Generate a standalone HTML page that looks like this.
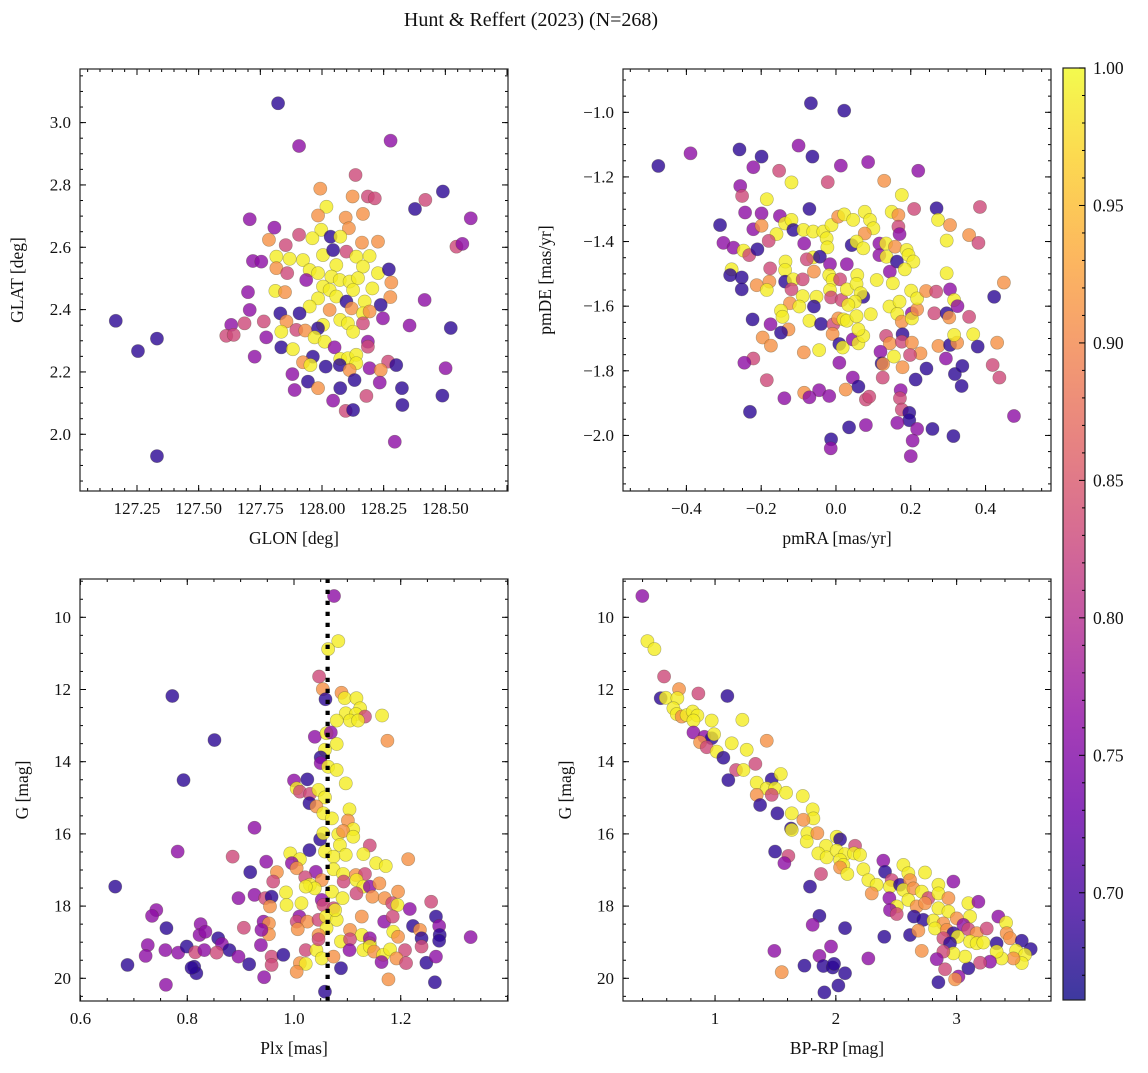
<!DOCTYPE html>
<html><head><meta charset="utf-8"><style>
body{margin:0;background:#fff;}
svg text{font-family:"Liberation Serif",serif;fill:#111;}
</style></head><body>
<svg id="fig" xmlns="http://www.w3.org/2000/svg" width="1148" height="1068" viewBox="0 0 1148 1068">
<defs><linearGradient id="plasma" x1="0" y1="1" x2="0" y2="0"></linearGradient></defs>
<rect width="1148" height="1068" fill="#fff"/>
<text x="531" y="26" font-size="20" text-anchor="middle" font-family="Liberation Serif, serif">Hunt &amp; Reffert (2023) (N=268)</text>
</svg>
<script>
// Panel 1: GLON vs GLAT
const glon=[127.822,127.907,128.278,128.136,127.993,128.490,128.419,128.124,128.186,128.214,128.018,128.377,128.603,127.707,127.984,128.096,128.166,127.807,127.907,127.997,128.109,128.035,127.961,128.074,127.785,127.853,128.162,128.227,128.545,128.569,127.815,127.869,127.923,127.720,127.754,127.815,127.859,128.004,128.045,128.099,128.139,128.193,128.166,128.058,127.950,127.984,128.038,127.936,128.227,128.271,128.004,128.072,128.112,128.146,128.281,127.700,127.811,127.850,128.031,128.126,128.204,127.984,128.058,128.099,128.173,128.277,128.416,127.950,128.031,128.120,128.238,127.707,127.831,127.909,128.166,128.193,128.247,128.074,128.105,127.164,127.632,127.686,127.764,127.856,128.004,128.166,128.355,128.522,127.331,127.612,127.642,127.774,127.835,127.896,127.932,127.984,127.970,128.011,128.126,128.186,127.254,127.835,127.882,128.051,128.186,127.727,127.963,127.923,127.953,128.074,128.105,128.139,128.015,128.072,128.139,128.268,128.301,128.193,128.238,128.112,128.501,127.880,127.943,128.132,128.234,127.889,127.984,128.074,128.324,128.180,128.488,128.045,128.326,128.096,128.126,128.295,127.331];
const glat=[3.062,2.925,2.942,2.832,2.788,2.779,2.752,2.763,2.763,2.757,2.730,2.723,2.693,2.690,2.702,2.695,2.707,2.663,2.640,2.656,2.661,2.634,2.629,2.634,2.624,2.607,2.615,2.618,2.602,2.611,2.570,2.563,2.559,2.556,2.554,2.533,2.517,2.575,2.591,2.586,2.570,2.572,2.538,2.543,2.527,2.517,2.506,2.495,2.517,2.529,2.474,2.495,2.490,2.501,2.487,2.456,2.460,2.456,2.463,2.463,2.468,2.436,2.442,2.426,2.426,2.440,2.431,2.410,2.399,2.404,2.415,2.399,2.388,2.388,2.388,2.394,2.372,2.367,2.356,2.364,2.351,2.356,2.362,2.362,2.351,2.356,2.349,2.341,2.307,2.316,2.319,2.311,2.329,2.335,2.333,2.340,2.311,2.297,2.329,2.297,2.267,2.279,2.273,2.279,2.281,2.249,2.249,2.231,2.222,2.242,2.244,2.255,2.217,2.222,2.228,2.233,2.222,2.212,2.206,2.206,2.212,2.193,2.169,2.174,2.166,2.142,2.148,2.148,2.148,2.123,2.124,2.108,2.094,2.075,2.078,1.976,1.930];
const prob1=[0.68,0.76,0.76,0.83,0.91,0.68,0.83,0.91,0.83,0.83,0.99,0.68,0.76,0.76,0.91,0.91,0.91,0.76,0.83,0.99,0.91,0.68,0.99,0.99,0.91,0.83,0.91,0.91,0.83,0.76,0.99,0.99,0.99,0.76,0.76,0.91,0.83,0.99,0.68,0.83,0.99,0.99,0.99,0.99,0.99,0.99,0.99,0.76,0.99,0.68,0.99,0.99,0.99,0.99,0.91,0.76,0.99,0.91,0.99,0.99,0.99,0.99,0.99,0.68,0.99,0.91,0.76,0.99,0.91,0.91,0.68,0.76,0.68,0.68,0.99,0.91,0.76,0.99,0.99,0.68,0.76,0.83,0.83,0.91,0.99,0.83,0.76,0.68,0.68,0.83,0.83,0.76,0.99,0.83,0.91,0.68,0.99,0.99,0.99,0.76,0.68,0.68,0.99,0.76,0.83,0.76,0.68,0.91,0.99,0.99,0.99,0.99,0.68,0.68,0.99,0.83,0.68,0.76,0.91,0.91,0.76,0.76,0.68,0.68,0.76,0.76,0.91,0.68,0.68,0.83,0.68,0.76,0.68,0.83,0.68,0.76,0.68];
// Panel 2: pmRA vs pmDE
const pmra=[-0.475,-0.389,-0.258,-0.199,-0.221,-0.100,-0.067,0.022,-0.063,0.013,0.086,0.220,-0.152,-0.119,-0.022,0.129,0.176,-0.256,-0.251,-0.185,-0.243,-0.199,-0.071,0.209,0.269,0.385,-0.310,-0.221,-0.199,-0.150,-0.136,-0.119,-0.114,-0.159,-0.087,-0.061,-0.034,-0.012,0.006,0.022,0.046,0.077,0.091,0.100,0.077,0.149,0.167,0.167,0.170,0.273,0.305,0.356,0.381,0.296,-0.301,-0.274,-0.247,-0.232,-0.210,-0.180,-0.085,-0.025,-0.023,-0.061,-0.078,-0.043,-0.016,0.029,0.042,0.055,0.073,0.116,0.116,0.134,0.135,0.158,0.163,0.189,0.194,0.207,0.184,0.144,-0.279,-0.283,-0.252,-0.252,-0.212,-0.178,-0.176,-0.185,-0.135,-0.136,-0.136,-0.114,-0.119,-0.089,-0.059,-0.018,-0.009,0.011,-0.016,-0.013,0.015,0.029,0.057,0.055,0.109,0.152,0.073,0.066,0.051,0.033,-0.089,-0.052,-0.123,-0.098,-0.059,-0.147,-0.143,-0.223,-0.175,-0.127,-0.147,-0.071,-0.040,-0.007,0.006,0.020,0.029,0.055,0.093,0.143,0.170,0.164,0.176,0.203,0.203,0.217,0.201,0.217,0.241,0.268,0.305,0.296,0.316,0.325,0.263,0.296,0.303,0.356,0.423,0.449,-0.196,-0.174,-0.086,-0.045,-0.009,0.009,0.018,0.045,0.060,0.073,0.060,0.134,0.144,0.178,0.176,0.203,0.226,0.198,0.155,0.119,0.122,0.126,0.178,0.274,0.305,0.324,0.316,0.367,0.379,0.431,0.294,0.242,0.318,0.338,0.336,0.419,0.437,0.213,-0.221,-0.245,-0.185,0.009,0.045,0.060,0.125,0.173,-0.045,-0.085,-0.071,-0.018,0.026,-0.138,0.080,0.089,0.171,0.176,0.196,0.196,0.164,0.217,-0.230,0.476,0.035,0.080,0.258,0.314,-0.013,-0.014,0.205,0.200];
const pmde=[-1.166,-1.127,-1.115,-1.137,-1.170,-1.103,-0.972,-0.995,-1.137,-1.165,-1.154,-1.181,-1.181,-1.217,-1.216,-1.212,-1.256,-1.228,-1.259,-1.269,-1.310,-1.313,-1.299,-1.299,-1.297,-1.293,-1.349,-1.362,-1.351,-1.321,-1.344,-1.333,-1.364,-1.377,-1.364,-1.369,-1.369,-1.349,-1.323,-1.316,-1.333,-1.308,-1.333,-1.359,-1.375,-1.308,-1.318,-1.354,-1.377,-1.333,-1.349,-1.380,-1.404,-1.397,-1.404,-1.419,-1.428,-1.442,-1.424,-1.398,-1.406,-1.390,-1.418,-1.449,-1.455,-1.447,-1.470,-1.470,-1.411,-1.400,-1.421,-1.406,-1.442,-1.406,-1.447,-1.416,-1.462,-1.426,-1.442,-1.462,-1.486,-1.493,-1.486,-1.504,-1.511,-1.548,-1.535,-1.524,-1.483,-1.550,-1.462,-1.488,-1.524,-1.517,-1.548,-1.517,-1.493,-1.504,-1.519,-1.517,-1.550,-1.573,-1.581,-1.548,-1.504,-1.531,-1.519,-1.529,-1.571,-1.560,-1.586,-1.596,-1.569,-1.571,-1.591,-1.601,-1.601,-1.614,-1.633,-1.641,-1.656,-1.672,-1.682,-1.645,-1.655,-1.656,-1.638,-1.641,-1.645,-1.631,-1.625,-1.601,-1.586,-1.624,-1.648,-1.622,-1.638,-1.610,-1.552,-1.576,-1.553,-1.555,-1.548,-1.498,-1.581,-1.600,-1.622,-1.622,-1.635,-1.633,-1.571,-1.527,-1.697,-1.722,-1.743,-1.736,-1.686,-1.717,-1.728,-1.703,-1.715,-1.692,-1.672,-1.692,-1.715,-1.687,-1.710,-1.713,-1.746,-1.751,-1.756,-1.741,-1.777,-1.779,-1.789,-1.723,-1.720,-1.713,-1.689,-1.687,-1.725,-1.713,-1.762,-1.793,-1.810,-1.785,-1.847,-1.782,-1.821,-1.827,-1.762,-1.775,-1.829,-1.775,-1.821,-1.849,-1.821,-1.860,-1.860,-1.868,-1.882,-1.878,-1.858,-1.885,-1.889,-1.880,-1.885,-1.920,-1.930,-1.953,-1.961,-1.980,-1.927,-1.940,-1.975,-1.968,-1.980,-2.002,-2.012,-2.040,-2.016,-2.064];
const prob2=[0.68,0.76,0.68,0.68,0.76,0.76,0.68,0.68,0.68,0.76,0.76,0.76,0.83,0.99,0.83,0.91,0.99,0.76,0.83,0.99,0.76,0.76,0.68,0.83,0.68,0.83,0.68,0.76,0.91,0.76,0.99,0.99,0.68,0.99,0.99,0.99,0.99,0.99,0.91,0.99,0.99,0.99,0.99,0.99,0.91,0.99,0.91,0.83,0.76,0.99,0.91,0.91,0.83,0.99,0.76,0.76,0.99,0.83,0.68,0.83,0.76,0.99,0.99,0.99,0.83,0.68,0.76,0.76,0.68,0.99,0.99,0.76,0.76,0.99,0.99,0.91,0.68,0.99,0.99,0.99,0.99,0.76,0.99,0.68,0.68,0.68,0.91,0.91,0.83,0.99,0.99,0.99,0.68,0.99,0.83,0.83,0.91,0.99,0.99,0.83,0.99,0.83,0.83,0.99,0.99,0.99,0.99,0.99,0.68,0.99,0.99,0.99,0.99,0.99,0.91,0.99,0.68,0.99,0.99,0.68,0.76,0.91,0.68,0.99,0.68,0.83,0.91,0.99,0.99,0.99,0.99,0.99,0.99,0.99,0.91,0.76,0.99,0.91,0.99,0.99,0.91,0.83,0.76,0.99,0.99,0.76,0.83,0.68,0.91,0.83,0.68,0.91,0.91,0.91,0.91,0.99,0.91,0.68,0.99,0.76,0.99,0.99,0.99,0.83,0.91,0.68,0.83,0.91,0.91,0.83,0.99,0.76,0.68,0.91,0.91,0.91,0.68,0.91,0.99,0.99,0.68,0.91,0.76,0.68,0.68,0.68,0.68,0.83,0.83,0.68,0.83,0.76,0.83,0.76,0.76,0.68,0.83,0.76,0.76,0.91,0.76,0.76,0.91,0.76,0.83,0.83,0.83,0.83,0.68,0.68,0.76,0.76,0.68,0.76,0.68,0.76,0.68,0.68,0.68,0.76,0.76,0.76];
// Panel 3: Plx vs G
const plx=[1.075,1.083,1.064,1.047,1.054,1.059,0.772,1.089,1.095,1.117,1.124,1.097,1.116,1.133,1.080,1.105,1.120,1.165,1.175,0.851,1.039,1.061,1.069,1.080,1.058,1.050,1.050,1.064,1.080,1.097,0.793,1.000,1.025,1.005,1.011,1.030,1.046,1.058,1.029,1.042,1.055,1.104,1.071,1.101,1.111,1.083,1.092,1.111,1.049,1.055,1.086,1.142,0.926,0.782,1.029,1.058,1.074,1.097,1.130,0.993,1.011,0.885,0.948,1.214,1.154,1.172,0.996,1.005,0.918,0.968,1.041,1.074,1.052,1.092,1.093,1.116,1.133,1.117,1.130,1.142,1.160,0.961,1.021,1.030,1.039,1.022,0.665,0.926,0.896,0.946,0.958,0.985,0.986,1.014,0.955,1.052,1.055,1.071,1.091,1.074,1.117,1.147,1.170,1.195,1.184,1.194,1.217,1.257,0.742,0.734,0.761,0.825,0.823,0.834,0.906,0.943,0.953,0.953,0.939,1.010,1.005,1.025,1.046,1.060,1.080,1.077,1.061,1.007,1.046,1.105,1.127,1.127,1.142,1.142,1.169,1.185,1.186,1.195,1.223,1.236,1.239,1.239,1.266,1.272,1.273,1.272,1.331,1.208,0.726,0.722,0.688,0.759,0.783,0.799,0.815,0.832,0.858,0.865,0.879,0.855,0.896,0.916,0.938,0.958,0.980,0.958,0.813,0.817,0.808,0.944,0.760,1.011,1.022,1.005,1.022,1.042,1.052,1.046,1.074,1.088,1.105,1.104,1.088,1.130,1.142,1.150,1.167,1.180,1.164,1.192,1.210,1.248,1.266,1.177,1.264,1.058];
const gmag3=[9.41,10.66,10.88,11.64,11.99,12.27,12.18,12.09,12.24,12.24,12.52,12.66,12.68,12.75,12.86,12.86,12.86,12.72,13.42,13.40,13.31,13.21,13.19,13.51,13.67,13.88,14.04,14.14,14.23,14.60,14.51,14.52,14.49,14.74,14.83,14.89,14.78,14.99,15.15,15.24,15.43,15.32,15.57,15.63,15.87,16.01,15.92,16.08,16.15,15.98,16.31,16.32,15.83,16.49,16.45,16.49,16.63,16.58,16.56,16.54,16.70,16.63,16.77,16.70,16.81,16.89,16.81,16.95,17.06,17.06,17.05,16.98,17.28,17.11,17.32,17.14,17.11,17.28,17.46,17.46,17.37,17.32,17.20,17.41,17.51,17.46,17.46,17.69,17.78,17.78,17.74,17.62,17.97,17.92,18.01,17.83,17.97,17.60,17.78,18.06,17.65,17.74,17.78,17.60,17.92,17.97,18.08,17.88,18.11,18.27,18.61,18.50,18.80,18.71,18.60,18.43,18.48,18.78,18.66,18.29,18.43,18.43,18.38,18.29,18.38,18.11,18.61,18.64,18.80,18.66,18.29,18.80,19.03,18.89,18.43,18.29,18.71,18.85,18.55,18.66,18.89,19.12,18.29,18.55,18.80,18.96,18.86,19.22,19.08,19.38,19.63,19.22,19.29,19.12,19.28,19.22,18.89,19.05,19.22,19.29,19.40,19.61,19.08,19.40,19.35,19.63,19.68,19.86,19.71,19.97,20.18,19.58,19.60,19.82,19.22,19.22,19.45,18.92,19.40,18.98,18.92,19.22,19.72,19.22,19.12,19.26,19.35,19.20,19.55,19.45,19.58,19.57,19.40,20.03,20.11,20.37];
const prob3=[0.76,0.99,0.99,0.83,0.91,0.68,0.68,0.91,0.99,0.99,0.99,0.99,0.99,0.83,0.99,0.99,0.99,0.99,0.91,0.68,0.76,0.99,0.76,0.99,0.99,0.68,0.76,0.99,0.99,0.99,0.68,0.76,0.68,0.99,0.83,0.83,0.99,0.99,0.68,0.91,0.99,0.99,0.99,0.91,0.99,0.99,0.91,0.99,0.68,0.99,0.99,0.83,0.76,0.76,0.68,0.99,0.99,0.99,0.99,0.99,0.99,0.83,0.76,0.91,0.99,0.99,0.76,0.91,0.68,0.91,0.76,0.99,0.91,0.99,0.83,0.91,0.83,0.99,0.99,0.76,0.91,0.83,0.83,0.99,0.99,0.99,0.68,0.76,0.76,0.83,0.68,0.99,0.99,0.99,0.91,0.76,0.83,0.99,0.99,0.83,0.83,0.91,0.91,0.91,0.83,0.99,0.76,0.83,0.76,0.76,0.68,0.76,0.76,0.76,0.83,0.76,0.91,0.91,0.76,0.76,0.83,0.91,0.83,0.99,0.99,0.99,0.99,0.91,0.91,0.91,0.91,0.99,0.99,0.76,0.76,0.83,0.99,0.91,0.68,0.91,0.68,0.83,0.68,0.76,0.68,0.68,0.76,0.83,0.76,0.76,0.68,0.76,0.76,0.68,0.83,0.76,0.68,0.76,0.68,0.83,0.76,0.68,0.76,0.83,0.68,0.83,0.68,0.68,0.68,0.76,0.76,0.91,0.99,0.91,0.83,0.99,0.99,0.83,0.91,0.99,0.83,0.76,0.68,0.99,0.99,0.91,0.99,0.99,0.76,0.91,0.83,0.68,0.76,0.91,0.68,0.68];
const plxMean=1.063;
// Panel 4: BP-RP vs G
const bprp=[0.398,0.440,0.498,0.578,0.702,0.862,1.102,0.550,0.592,0.688,0.655,0.683,0.724,0.765,0.815,0.854,0.821,0.972,1.226,0.821,0.912,0.972,0.992,0.876,0.931,1.014,1.069,1.138,1.262,1.428,1.334,1.174,1.235,1.110,1.345,1.469,1.544,1.428,1.497,1.469,1.345,1.373,1.588,1.726,1.516,1.635,1.808,1.814,1.731,1.629,1.635,1.764,1.847,1.759,2.007,2.035,1.919,1.855,1.924,2.007,2.076,2.159,2.150,2.200,1.497,1.607,1.574,2.035,2.062,2.035,2.095,2.228,2.393,2.407,2.559,2.600,2.738,1.877,2.269,2.338,2.462,2.448,2.531,2.614,2.849,2.973,1.786,2.297,2.443,2.559,2.642,2.711,2.766,2.849,2.932,2.600,2.504,2.448,2.504,2.669,2.738,2.849,2.932,3.097,3.180,3.111,2.647,2.724,2.807,2.890,3.001,3.056,3.345,3.409,2.614,2.683,2.821,2.918,2.973,3.009,3.097,3.166,3.249,3.414,3.442,2.890,2.945,3.111,3.166,3.221,3.331,3.539,3.613,3.492,3.566,3.539,3.470,3.373,3.331,3.276,3.194,3.097,3.070,2.973,2.890,2.835,2.904,3.015,2.987,2.849,2.711,2.401,2.269,2.076,2.076,2.021,1.905,1.864,1.808,1.960,1.864,1.740,1.897,1.974,1.985,1.491,1.552];
const gmag4=[9.41,10.66,10.88,11.64,11.99,12.11,12.18,12.24,12.23,12.24,12.52,12.68,12.75,12.71,12.61,12.72,12.86,12.86,12.84,13.19,13.31,13.35,13.24,13.46,13.60,13.72,13.89,13.49,13.67,13.42,14.06,14.23,14.23,14.51,14.58,14.49,14.34,14.74,14.74,14.92,14.92,15.20,14.86,14.95,15.43,15.43,15.32,15.57,15.61,15.85,15.89,15.98,15.98,16.21,16.08,16.15,16.33,16.54,16.65,16.46,16.56,16.33,16.54,16.58,16.49,16.61,16.81,16.72,16.86,16.93,17.11,16.98,16.74,17.05,16.86,17.09,17.07,17.11,17.28,17.41,17.28,17.46,17.41,17.28,17.41,17.32,17.46,17.65,17.78,17.55,17.51,17.60,17.78,17.65,17.78,17.83,18.01,18.11,18.22,18.01,17.92,18.06,18.15,17.92,17.88,18.29,18.29,18.38,18.40,18.48,18.34,18.52,18.29,18.46,18.80,18.68,18.62,18.66,18.75,18.85,18.64,18.75,18.62,18.75,18.89,18.89,19.03,18.98,19.03,19.01,19.03,18.96,19.19,19.23,19.35,19.58,19.45,19.45,19.26,19.54,19.57,19.72,19.40,19.31,19.26,19.47,19.75,19.95,20.03,20.11,19.24,18.85,19.45,18.61,19.86,20.20,20.39,18.27,18.52,19.12,19.38,19.65,19.66,19.70,19.60,19.24,19.83];
const prob4=[0.76,0.99,0.99,0.83,0.91,0.83,0.68,0.68,0.99,0.99,0.99,0.99,0.91,0.99,0.99,0.99,0.99,0.99,0.99,0.76,0.76,0.68,0.99,0.91,0.83,0.99,0.68,0.99,0.99,0.91,0.83,0.83,0.99,0.68,0.99,0.68,0.99,0.99,0.99,0.83,0.91,0.68,0.99,0.99,0.68,0.99,0.99,0.99,0.91,0.68,0.99,0.99,0.91,0.99,0.99,0.68,0.99,0.99,0.99,0.99,0.99,0.83,0.99,0.99,0.68,0.83,0.76,0.99,0.99,0.91,0.99,0.99,0.76,0.68,0.99,0.99,0.99,0.83,0.99,0.99,0.83,0.99,0.68,0.91,0.99,0.76,0.68,0.91,0.76,0.99,0.91,0.99,0.83,0.99,0.91,0.99,0.99,0.76,0.83,0.91,0.91,0.99,0.99,0.99,0.76,0.99,0.68,0.68,0.99,0.91,0.91,0.76,0.76,0.99,0.68,0.91,0.99,0.91,0.68,0.99,0.83,0.91,0.83,0.91,0.91,0.83,0.68,0.99,0.99,0.99,0.68,0.68,0.68,0.99,0.99,0.99,0.91,0.99,0.99,0.76,0.83,0.68,0.99,0.99,0.83,0.76,0.83,0.76,0.91,0.68,0.91,0.68,0.76,0.68,0.68,0.68,0.68,0.68,0.76,0.76,0.76,0.68,0.68,0.68,0.68,0.76,0.91];
// Colorbar
const cbTicks=[0.70,0.75,0.80,0.85,0.90,0.95,1.00];
const cbMin=0.661, cbMax=1.0;

const NS='http://www.w3.org/2000/svg';
const svg=document.getElementById('fig');
const FONT='Liberation Serif, serif';
function mk(tag,attrs,parent){const e=document.createElementNS(NS,tag);for(const k in attrs)e.setAttribute(k,attrs[k]);if(tag==='text')e.setAttribute('font-family',FONT);(parent||svg).appendChild(e);return e;}
const stops=[[0,'#0d0887'],[0.1,'#41049d'],[0.2,'#6a00a8'],[0.3,'#8f0da4'],[0.4,'#b12a90'],[0.5,'#cc4778'],[0.6,'#e16462'],[0.7,'#f2844b'],[0.8,'#fca636'],[0.9,'#fcce25'],[1,'#f0f921']];
function hex(h){return [1,3,5].map(i=>parseInt(h.substr(i,2),16));}
function plasma(v){let t=(v-cbMin)/(cbMax-cbMin);t=Math.max(0,Math.min(1,t));
 for(let i=0;i<stops.length-1;i++){if(t<=stops[i+1][0]){const a=hex(stops[i][1]),b=hex(stops[i+1][1]);const f=(t-stops[i][0])/(stops[i+1][0]-stops[i][0]);return 'rgb('+a.map((c,j)=>Math.round(c+(b[j]-c)*f)).join(',')+')';}}
 return stops[stops.length-1][1];}
const grad=document.getElementById('plasma');
stops.forEach(s=>{mk('stop',{offset:s[0],'stop-color':s[1],'stop-opacity':0.8},grad);});

function fmt(v,d){let s=v.toFixed(d);if(v<0)s='\u2212'+s.slice(1);return s;}
function panel(o){
 const g=mk('g',{});
 
 
 const sx=v=>o.x0+(v-o.xmin)/(o.xmax-o.xmin)*(o.x1-o.x0);
 const sy=v=>o.y1-(v-o.ymin)/(o.ymax-o.ymin)*(o.y1-o.y0);
 const clip='c'+o.name;
 const cp=mk('clipPath',{id:clip},g);mk('rect',{x:o.x0,y:o.y0,width:o.x1-o.x0,height:o.y1-o.y0},cp);
 const pts=mk('g',{'clip-path':'url(#'+clip+')'},g);
 
 
 for(let i=0;i<o.xs.length;i++){
  const c=mk('circle',{cx:sx(o.xs[i]),cy:sy(o.ys[i]),r:6.6,fill:plasma(o.ps[i]),'fill-opacity':0.8,stroke:'rgba(70,70,40,0.4)','stroke-width':0.6},pts);
  
  
 }
 if(o.vline!==undefined){
  const l=mk('line',{x1:sx(o.vline),x2:sx(o.vline),y1:o.y1,y2:o.y0,stroke:'#000','stroke-width':4.2,'stroke-dasharray':'4.2 6.8'},pts);
  
  
 }
 const tk=mk('g',{stroke:'#000','stroke-width':1},g);
 function ticksX(step,len){const s=Math.ceil(o.xmin/step-1e-6);for(let k=s;k*step<=o.xmax+1e-9;k++){const x=sx(k*step);mk('line',{x1:x,x2:x,y1:o.y1,y2:o.y1-len},tk);mk('line',{x1:x,x2:x,y1:o.y0,y2:o.y0+len},tk);}}
 function ticksY(step,len){const s=Math.ceil(Math.min(o.ymin,o.ymax)/step-1e-6);for(let k=s;k*step<=Math.max(o.ymin,o.ymax)+1e-9;k++){const y=sy(k*step);mk('line',{x1:o.x0,x2:o.x0+len,y1:y,y2:y},tk);mk('line',{x1:o.x1,x2:o.x1-len,y1:y,y2:y},tk);}}
 ticksX(o.xminor,3);ticksX(o.xmajor,6);ticksY(o.yminor,3);ticksY(o.ymajor,6);
 mk('rect',{x:o.x0,y:o.y0,width:o.x1-o.x0,height:o.y1-o.y0,fill:'none',stroke:'#222','stroke-width':1.2},g);
 o.xticks.forEach(v=>{const t=mk('text',{x:sx(v),y:o.y1+23,'font-size':17,'text-anchor':'middle'},g);t.textContent=fmt(v,o.xdec);});
 o.yticks.forEach(v=>{const t=mk('text',{x:o.x0-9,y:sy(v)+5.5,'font-size':17,'text-anchor':'end'},g);t.textContent=fmt(v,o.ydec);});
 const xl=mk('text',{x:(o.x0+o.x1)/2,y:o.y1+53,'font-size':17.5,'text-anchor':'middle'},g);xl.textContent=o.xlabel;
 
 const yc=(o.y0+o.y1)/2;
 const yl=mk('text',{x:o.ylx,y:yc,'font-size':17.5,'text-anchor':'middle',transform:'rotate(-90 '+o.ylx+' '+yc+')'},g);yl.textContent=o.ylabel;
 
}
panel({name:'glon-glat-panel',x0:80,x1:508,y0:69,y1:491,xmin:127.019,xmax:128.754,ymin:1.818,ymax:3.172,xs:glon,ys:glat,ps:prob1,
 xmajor:0.25,xminor:0.05,ymajor:0.2,yminor:0.05,xticks:[127.25,127.5,127.75,128.0,128.25,128.5],xdec:2,yticks:[2.0,2.2,2.4,2.6,2.8,3.0],ydec:1,xlabel:'GLON [deg]',ylabel:'GLAT [deg]',ylx:23});
panel({name:'proper-motion-panel',x0:623,x1:1051,y0:69,y1:491,xmin:-0.5695,xmax:0.575,ymin:-2.172,ymax:-0.866,xs:pmra,ys:pmde,ps:prob2,
 xmajor:0.2,xminor:0.05,ymajor:0.2,yminor:0.05,xticks:[-0.4,-0.2,0,0.2,0.4],xdec:1,yticks:[-2.0,-1.8,-1.6,-1.4,-1.2,-1.0],ydec:1,xlabel:'pmRA [mas/yr]',ylabel:'pmDE [mas/yr]',ylx:551});
panel({name:'parallax-panel',x0:80,x1:508,y0:579,y1:1001,xmin:0.599,xmax:1.401,ymin:20.629,ymax:8.939,xs:plx,ys:gmag3,ps:prob3,vline:plxMean,
 xmajor:0.2,xminor:0.05,ymajor:2,yminor:0.5,xticks:[0.6,0.8,1.0,1.2],xdec:1,yticks:[10,12,14,16,18,20],ydec:0,xlabel:'Plx [mas]',ylabel:'G [mag]',ylx:28});
panel({name:'cmd-panel',x0:623,x1:1051,y0:579,y1:1001,xmin:0.238,xmax:3.781,ymin:20.629,ymax:8.939,xs:bprp,ys:gmag4,ps:prob4,
 xmajor:1,xminor:0.2,ymajor:2,yminor:0.5,xticks:[1,2,3],xdec:0,yticks:[10,12,14,16,18,20],ydec:0,xlabel:'BP-RP [mag]',ylabel:'G [mag]',ylx:571});

const cb=mk('g',{});


const cx0=1063,cx1=1085,cy0=68,cy1=1000;
const cby=v=>cy1-(v-cbMin)/(cbMax-cbMin)*(cy1-cy0);
mk('rect',{x:cx0,y:cy0,width:cx1-cx0,height:cy1-cy0,fill:'url(#plasma)',stroke:'#222','stroke-width':1.2},cb);
for(let k=67;k<=100;k++){const y=cby(k/100);mk('line',{x1:cx1,x2:cx1-(k%5===0?6:3),y1:y,y2:y,stroke:'#000','stroke-width':1},cb);}
cbTicks.forEach(v=>{const t=mk('text',{x:1093,y:cby(v)+6,'font-size':17.5},cb);t.textContent=v.toFixed(2);
 });
</script>
</body></html>
